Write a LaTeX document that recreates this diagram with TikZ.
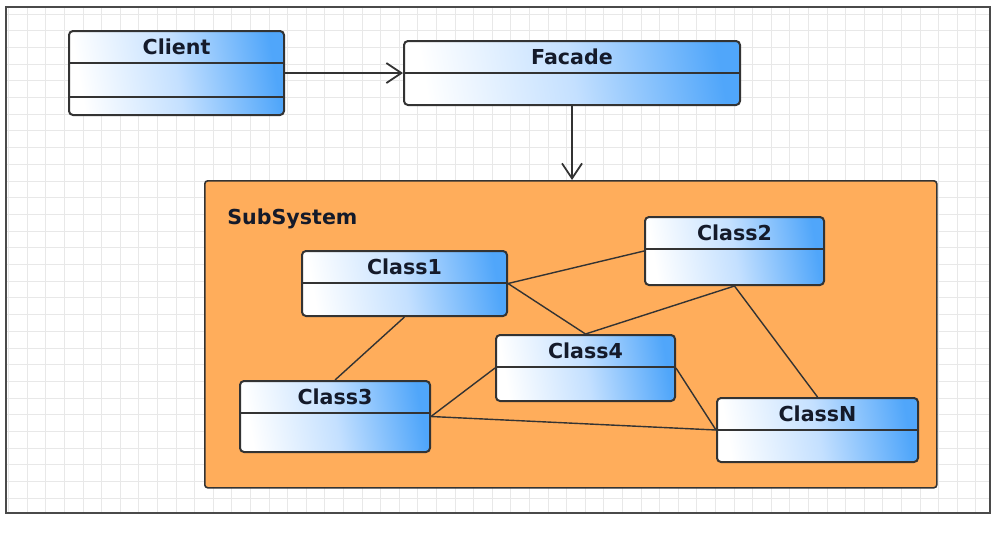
\documentclass[tikz,border=0pt]{standalone}
\usepackage{fontspec}
\newfontfamily\umlfont{DejaVu Sans}
\usetikzlibrary{arrows.meta}
\definecolor{gridgrey}{HTML}{E8E8E8}
\definecolor{framegrey}{HTML}{4A4A4A}
\definecolor{boxline}{HTML}{333333}
\definecolor{umlblue}{HTML}{50A6FA}
\definecolor{paleblue}{HTML}{C4E0FF}
\definecolor{subfill}{HTML}{FFAD5B}
\definecolor{titleink}{HTML}{141A2A}

\begin{document}
\begin{tikzpicture}[x=0.5pt,y=-0.5pt,
  every node/.style={font=\umlfont\bfseries\fontsize{10.3}{12}\selectfont,text=titleink},
  gridline/.style={draw=gridgrey,line width=0.5pt},
  divider/.style={path picture={\foreach \dy in {#1} \draw[line width=1pt,draw=boxline] ([yshift=-\dy]path picture bounding box.north west) -- ([yshift=-\dy]path picture bounding box.north east);}},
  classbox/.style={draw=boxline,line width=1pt,rounded corners=2pt,left color=white,right color=umlblue,middle color=paleblue,shading angle=100,inner xsep=2pt,inner ysep=0pt,text height=11.5pt,text depth=#1,anchor=north west,divider=16pt},
  subsys/.style={draw=boxline,line width=0.8pt,fill=subfill,rounded corners=1.5pt,anchor=north west,inner sep=0pt},
  assoc/.style={draw=boxline,line width=0.7pt},
  navig/.style={-{Straight Barb[length=7.5pt,width=10pt]},draw=boxline,line width=0.9pt}
]
  \useasboundingbox[fill=white] (0,0) rectangle (991,537);
  \foreach \gx in {8.6,27.2,...,990} \draw[gridline] (\gx,7) -- (\gx,513);
  \foreach \gy in {14,30.7,...,513} \draw[gridline] (6,\gy) -- (990,\gy);
  \draw[draw=framegrey,line width=0.8pt] (6,7) rectangle (990,513);
  \node[classbox=30.5pt,minimum width=107.5pt,divider={16pt,33pt}] (client) at (68,30) {Client};
  \node[classbox=20.5pt,minimum width=168pt] (facade) at (403,40) {Facade};
  \node[subsys,minimum width=366pt,minimum height=153.5pt] (subsystem) at (204,180) {};
  \node[anchor=base west,inner sep=0pt] (subtitle) at (227,224) {SubSystem};
  \node[classbox=21pt,minimum width=102.5pt] (class1) at (301,250) {Class1};
  \node[classbox=22.5pt,minimum width=89.5pt] (class2) at (644,216) {Class2};
  \node[classbox=21.5pt,minimum width=89.5pt] (class4) at (495,334) {Class4};
  \node[classbox=24pt,minimum width=95pt] (class3) at (239,380) {Class3};
  \node[classbox=20.5pt,minimum width=100.5pt] (classn) at (716,397) {ClassN};
  \draw[navig] (client.east) -- (facade.west);
  \draw[navig] (facade.south) -- (facade.south |- subsystem.north);
  \draw[assoc] (class1.east) -- (class2.west);
  \draw[assoc] (class1.east) -- (class4.north);
  \draw[assoc] (class2.south) -- (class4.north);
  \draw[assoc] (class2.south) -- (classn.north);
  \draw[assoc] (class1.south) -- (class3.north);
  \draw[assoc] (class3.east) -- (class4.west);
  \draw[assoc] (class3.east) -- (classn.west);
  \draw[assoc] (class4.east) -- (classn.west);
\end{tikzpicture}
\end{document}
